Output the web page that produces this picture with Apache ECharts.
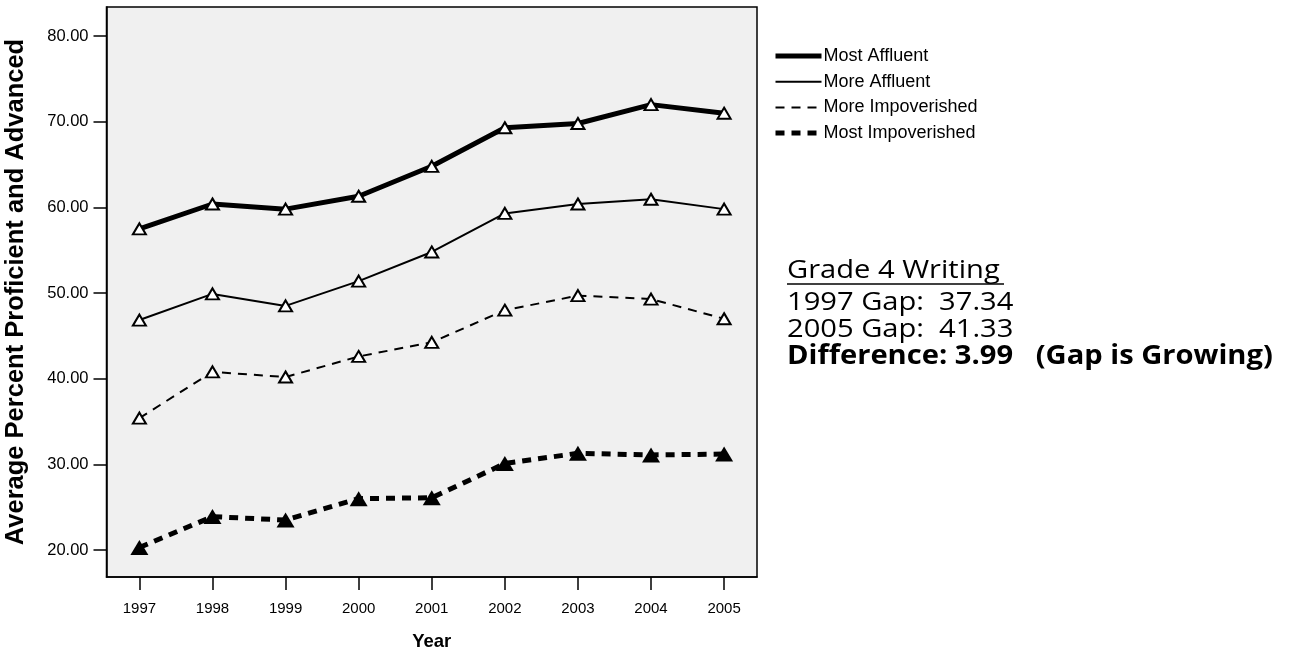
<!DOCTYPE html>
<html>
<head>
<meta charset="utf-8">
<script src="https://cdn.jsdelivr.net/npm/echarts@6/dist/echarts.min.js"></script>
<style>
html,body{margin:0;padding:0;background:#fff;}
#chart{width:1289px;height:653px;}
</style>
</head>
<body>
<div id="chart"></div>
<script>
const years = [1997, 1998, 1999, 2000, 2001, 2002, 2003, 2004, 2005];
const yTicks = [20, 30, 40, 50, 60, 70, 80];
const mostAffluent = [57.5, 60.4, 59.8, 61.3, 64.8, 69.3, 69.8, 72.0, 71.0];
const moreAffluent = [46.85, 49.9, 48.5, 51.4, 54.8, 59.3, 60.4, 60.95, 59.8];
const moreImpoverished = [35.4, 40.8, 40.2, 42.6, 44.25, 48.0, 49.7, 49.3, 47.0];
const mostImpoverished = [20.3, 23.9, 23.5, 26.0, 26.1, 30.1, 31.3, 31.1, 31.2];
const seriesNames = ['Most Affluent', 'More Affluent', 'More Impoverished', 'Most Impoverished'];
const noteLines = ['Grade 4 Writing', '1997 Gap:  37.34', '2005 Gap:  41.33', 'Difference: 3.99   (Gap is Growing)'];

const pairs = arr => arr.map((v, i) => [years[i], v]);
const FONT = 'Arial, "Liberation Sans", sans-serif';
const NOTE_FONT = '"Open Sans", Lato, sans-serif';
const NOTE_SX = 1.12;

const hollow = { color: '#fff', borderColor: '#000', borderWidth: 2 };
const lineStyles = [
  { color: '#000', width: 5 },
  { color: '#000', width: 2 },
  { color: '#000', width: 2, type: [9, 7] },
  { color: '#000', width: 5, type: [9, 7] }
];

const noteText = (i, y, bold) => ({
  type: 'text', x: 787, y: y, scaleX: NOTE_SX,
  style: { text: noteLines[i], font: (bold ? 'bold ' : '') + '26px ' + NOTE_FONT, fill: '#000', verticalAlign: 'middle' }
});

const chart = echarts.init(document.getElementById('chart'));
chart.setOption({
  animation: false,
  backgroundColor: '#fff',
  grid: {
    left: 106.5, right: 532, top: 7, bottom: 76,
    outerBoundsMode: 'none', containLabel: false,
    show: true, backgroundColor: '#f0f0f0', borderColor: '#000', borderWidth: 1.5
  },
  legend: {
    left: 768, top: 42, orient: 'vertical',
    itemWidth: 46, itemHeight: 14, itemGap: 7.7,
    data: seriesNames.map((n, i) => ({ name: n, lineStyle: lineStyles[i] })),
    textStyle: { fontFamily: FONT, fontSize: 18, color: '#000', padding: [0, 0, 0, -3] },
    itemStyle: { opacity: 0 }
  },
  xAxis: {
    type: 'value', min: 1996.55, max: 2005.45,
    name: 'Year', nameLocation: 'middle', nameGap: 55,
    nameTextStyle: { fontFamily: FONT, fontSize: 18.5, fontWeight: 'bold', color: '#000' },
    axisLine: { show: true, lineStyle: { color: '#000', width: 1.5 } },
    axisTick: { show: true, length: 13, lineStyle: { color: '#000', width: 1.5 }, customValues: years },
    axisLabel: { fontFamily: FONT, fontSize: 15, color: '#000', margin: 24, customValues: years, formatter: v => String(v) },
    splitLine: { show: false }
  },
  yAxis: {
    type: 'value', min: 16.85, max: 83.4,
    name: 'Average Percent Proficient and Advanced', nameLocation: 'middle', nameGap: 78,
    nameTextStyle: { fontFamily: FONT, fontSize: 25.5, fontWeight: 'bold', color: '#000' },
    axisLine: { show: true, lineStyle: { color: '#000', width: 1.5 } },
    axisTick: { show: true, length: 13, lineStyle: { color: '#000', width: 1.5 }, customValues: yTicks },
    axisLabel: { fontFamily: FONT, fontSize: 16.5, color: '#000', margin: 18, customValues: yTicks, formatter: v => v.toFixed(2) },
    splitLine: { show: false }
  },
  series: [
    {
      name: seriesNames[0], type: 'line', data: pairs(mostAffluent),
      symbol: 'triangle', symbolSize: [13, 11], itemStyle: hollow,
      lineStyle: lineStyles[0], z: 4
    },
    {
      name: seriesNames[1], type: 'line', data: pairs(moreAffluent),
      symbol: 'triangle', symbolSize: [13, 11], itemStyle: hollow,
      lineStyle: lineStyles[1], z: 3
    },
    {
      name: seriesNames[2], type: 'line', data: pairs(moreImpoverished),
      symbol: 'triangle', symbolSize: [13, 11], itemStyle: hollow,
      lineStyle: lineStyles[2], z: 3
    },
    {
      name: seriesNames[3], type: 'line', data: pairs(mostImpoverished),
      symbol: 'triangle', symbolSize: [18, 15], itemStyle: { color: '#000' },
      lineStyle: lineStyles[3], z: 3
    }
  ],
  graphic: [
    noteText(0, 271, false),
    { type: 'line', shape: { x1: 787, y1: 284, x2: 1004, y2: 284 }, style: { stroke: '#000', lineWidth: 1.5 } },
    noteText(1, 303, false),
    noteText(2, 330, false),
    noteText(3, 357, true)
  ]
});
</script>
</body>
</html>
